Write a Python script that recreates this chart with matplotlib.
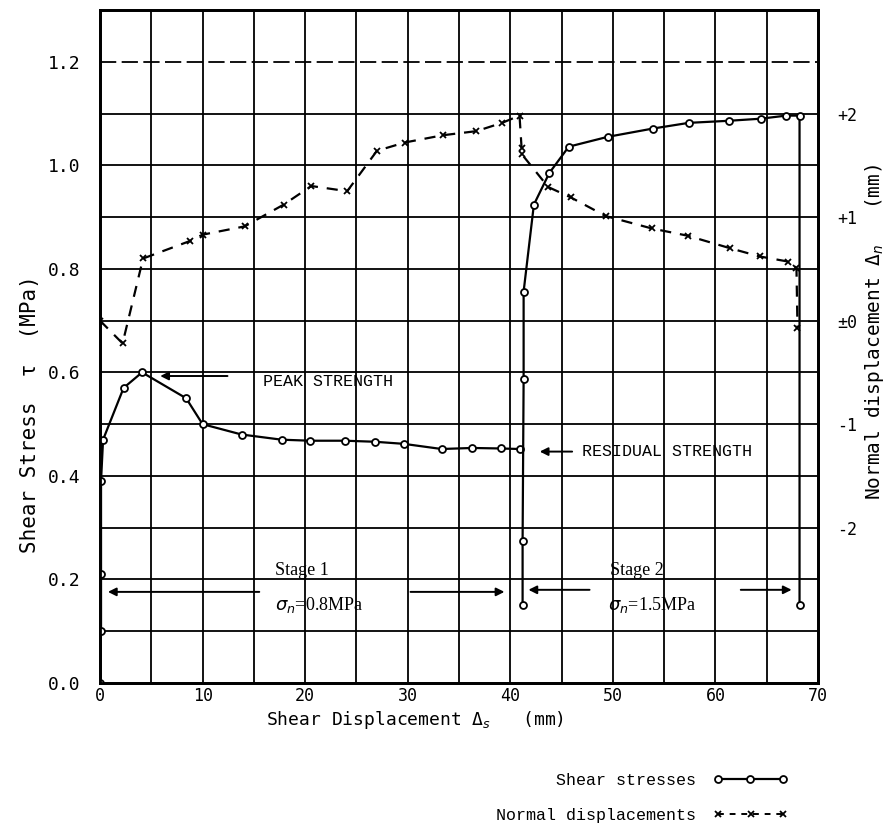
import matplotlib.pyplot as plt
from matplotlib.lines import Line2D

# =====================
# DATA
# =====================
# shear stress, stage 1 (MPa) vs shear displacement (mm)
s1_x = [0.0, 0.1, 0.1, 0.1, 0.3, 2.3, 4.1, 8.4, 10.0, 13.8, 17.7, 20.5,
        23.9, 26.8, 29.6, 33.3, 36.3, 39.1, 40.9]
s1_tau = [0.00, 0.10, 0.21, 0.39, 0.47, 0.57, 0.60, 0.55, 0.50, 0.48, 0.47,
          0.468, 0.468, 0.466, 0.462, 0.452, 0.454, 0.453, 0.452]

# shear stress, stage 2
s2_x = [41.2, 41.2, 41.3, 41.3, 42.3, 43.8, 45.7, 49.5, 53.9, 57.4, 61.3,
        64.4, 66.9, 68.2, 68.2]
s2_tau = [0.15, 0.275, 0.587, 0.756, 0.924, 0.985, 1.036, 1.055, 1.071,
          1.082, 1.086, 1.090, 1.096, 1.096, 0.15]

# normal displacement (mm)
nd_x = [0.0, 2.2, 4.2, 8.8, 10.0, 14.1, 17.9, 20.6, 24.1, 27.0, 29.7, 33.4,
        36.7, 39.2, 40.9, 41.1, 41.1, 43.7, 45.9, 49.3, 53.8, 57.3, 61.4,
        64.3, 67.1, 67.9, 68.0]
nd_y = [0.00, -0.22, 0.60, 0.77, 0.83, 0.91, 1.12, 1.30, 1.25, 1.64, 1.72,
        1.79, 1.83, 1.91, 1.98, 1.67, 1.61, 1.29, 1.19, 1.01, 0.89, 0.82,
        0.70, 0.62, 0.57, 0.51, -0.07]

x_ticks = [0, 10, 20, 30, 40, 50, 60, 70]
y_ticks = [0.0, 0.2, 0.4, 0.6, 0.8, 1.0, 1.2]
y_tick_labels = ['0.0', '0.2', '0.4', '0.6', '0.8', '1.0', '1.2']
r_ticks = [2, 1, 0, -1, -2]
r_tick_labels = ['+2', '+1', '\u00b10', '-1', '-2']

mono = 'DejaVu Sans Mono'
typew = 'Liberation Mono'

# =====================
# FIGURE
# =====================
fig = plt.figure(figsize=(8.92, 8.30), dpi=100)
ax = fig.add_axes([100/892, 1-683/830, 718/892, 673/830])
ax.set_xlim(0, 70)
ax.set_ylim(0, 1.3)

# grid drawn by hand (scan look)
for i in range(1, 13):
    yv = i / 10
    if i == 12:
        ax.axhline(yv, color='k', lw=1.3, dashes=(9, 3), zorder=1)
    else:
        ax.axhline(yv, color='k', lw=1.3, zorder=1)
for xv in range(5, 70, 5):
    ax.axvline(xv, color='k', lw=1.3, zorder=1)

for sp in ax.spines.values():
    sp.set_linewidth(2)

ax.set_xticks(x_ticks)
ax.set_xticklabels([str(v) for v in x_ticks], fontfamily=mono, fontsize=12)
ax.set_yticks(y_ticks)
ax.set_yticklabels(y_tick_labels, fontfamily=mono, fontsize=13)
ax.tick_params(axis='both', length=0)
ax.tick_params(axis='y', pad=14)
ax.tick_params(axis='x', pad=3)

ax2 = ax.twinx()
ax2.set_ylim(-3.5, 3.0)
ax2.set_yticks(r_ticks)
ax2.set_yticklabels(r_tick_labels, fontfamily=mono, fontsize=12)
ax2.tick_params(axis='y', length=0, pad=14)
for sp in ax2.spines.values():
    sp.set_linewidth(2)

# =====================
# CURVES
# =====================
ax.plot(s1_x, s1_tau, color='k', lw=1.6, marker='o', ms=5,
        mfc='white', mec='k', mew=1.3, zorder=3)
ax.plot(s2_x, s2_tau, color='k', lw=1.6, marker='o', ms=5,
        mfc='white', mec='k', mew=1.3, zorder=3)
ax2.plot(nd_x, nd_y, color='k', lw=1.6, dashes=(5, 4), marker='x', ms=5,
         mew=1.3, zorder=3)

# =====================
# ANNOTATIONS
# =====================
arw = dict(arrowstyle='-|>', color='k', lw=1.4, mutation_scale=12)
ax.annotate('', xy=(5.6, 0.593), xytext=(12.7, 0.593), arrowprops=arw)
ax.text(15.9, 0.583, 'PEAK STRENGTH', fontfamily=typew, fontsize=12, va='center')

ax.annotate('', xy=(42.6, 0.447), xytext=(46.3, 0.447), arrowprops=arw)
ax.text(47.0, 0.447, 'RESIDUAL STRENGTH', fontfamily=typew, fontsize=12, va='center')

ax.annotate('', xy=(0.5, 0.176), xytext=(15.8, 0.176), arrowprops=arw)
ax.annotate('', xy=(39.7, 0.176), xytext=(30.0, 0.176), arrowprops=arw)
ax.text(17.1, 0.201, 'Stage 1', fontfamily='Liberation Serif', fontsize=13, va='bottom')
ax.text(17.1, 0.15, r'$\sigma_n$=0.8MPa', fontfamily='Liberation Serif', fontsize=13, va='center')

ax.annotate('', xy=(41.5, 0.18), xytext=(48.0, 0.18), arrowprops=arw)
ax.annotate('', xy=(67.7, 0.18), xytext=(62.2, 0.18), arrowprops=arw)
ax.text(49.7, 0.201, 'Stage 2', fontfamily='Liberation Serif', fontsize=13, va='bottom')
ax.text(49.5, 0.15, r'$\sigma_n$=1.5MPa', fontfamily='Liberation Serif', fontsize=13, va='center')

# axis labels
fig.text(30/892, 1-414/830, 'Shear Stress  \u03c4  (MPa)', rotation=90,
         ha='center', va='center', fontfamily=mono, fontsize=15)
fig.text(874/892, 1-332/830, 'Normal displacement \u0394$_n$   (mm)', rotation=90,
         ha='center', va='center', fontfamily=mono, fontsize=14)
fig.text(415/892, 1-720/830, 'Shear Displacement \u0394$_s$   (mm)',
         ha='center', va='center', fontfamily=mono, fontsize=13)

# legend
handles = [Line2D([], [], color='k', lw=1.6, marker='o', ms=5, mfc='white', mew=1.3),
           Line2D([], [], color='k', lw=1.4, dashes=(3, 3), marker='x', ms=4, mew=1.3)]
fig.legend(handles, ['Shear stresses', 'Normal displacements'],
           loc='center right', bbox_to_anchor=(803/892, 1-798/830),
           markerfirst=False, frameon=False, handlelength=4.5, numpoints=3,
           labelspacing=1.2, handletextpad=1.0, prop={'family': typew, 'size': 12})

fig.savefig('out.png', dpi=100)
